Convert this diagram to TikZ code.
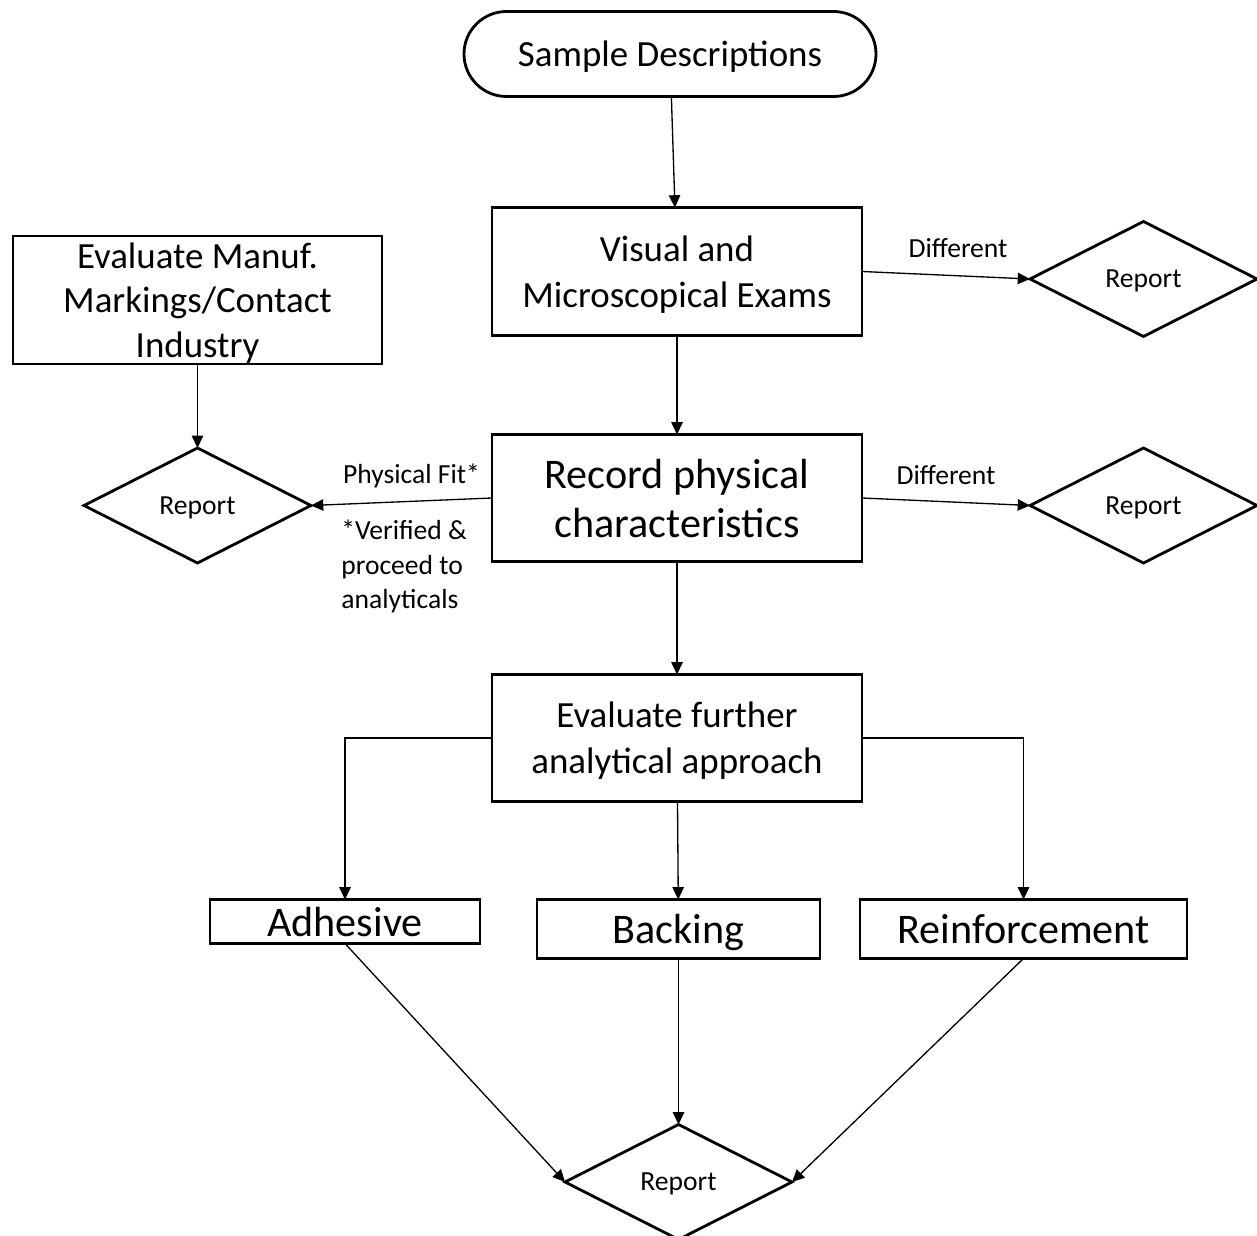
\documentclass[tikz,border=0pt]{standalone}
\usepackage{fontspec}
\setmainfont{Carlito}
\usetikzlibrary{shapes.geometric, arrows.meta, positioning}

\begin{document}
\begin{tikzpicture}[
  box/.style={draw, line width=1.6pt, align=center, inner sep=0pt, outer sep=0pt,
              minimum width=7.40cm, minimum height=2.56cm, text depth=0pt,
              font=\fontsize{21}{26}\selectfont},
  part/.style={box, minimum height=1.18cm, font=\fontsize{24}{28}\selectfont},
  terminal/.style={box, rounded corners=0.85cm, minimum width=8.24cm,
                   minimum height=1.70cm},
  report/.style={draw, diamond, line width=1.6pt, inner sep=0pt, outer sep=0pt,
                 minimum width=4.54cm, minimum height=2.30cm, text depth=0pt,
                 font=\fontsize{15.7}{19}\selectfont},
  arr/.style={-{Triangle[length=7pt, width=6.5pt]}, line width=0.75pt},
  lab/.style={font=\fontsize{15.7}{19.6}\selectfont, midway, above=6pt}
]
\useasboundingbox (0,0) rectangle (25.14,-24.72);

\node[terminal] (start) at (13.40,-1.08) {Sample Descriptions};
\node[box, below=2.22cm of start, xshift=0.14cm] (visual) {Visual and\\Microscopical Exams};
\node[report, right=3.36cm of visual, yshift=-0.15cm] (rep1) {Report};
\node[box, below=1.98cm of visual, font=\fontsize{24}{27.8}\selectfont,
      minimum height=2.54cm] (record) {Record physical\\characteristics};
\node[report, right=3.36cm of record, yshift=-0.15cm] (rep2) {Report};
\node[report, left=3.62cm of record, yshift=-0.15cm] (repL) {Report};
\node[box, above=1.68cm of repL, minimum width=7.38cm,
      font=\fontsize{21}{25.2}\selectfont] (manuf) {Evaluate Manuf.\\Markings/Contact\\Industry};
\node[box, below=2.26cm of record, minimum height=2.54cm] (further) {Evaluate further\\analytical approach};

\node[part, below=1.96cm of further, xshift=0.03cm, minimum width=5.66cm] (backing) {Backing};
\node[part, below=1.96cm of further, xshift=-6.64cm, minimum width=5.40cm,
      minimum height=0.88cm] (adhesive) {Adhesive};
\node[part, below=1.96cm of further, xshift=6.93cm, minimum width=6.54cm] (reinf) {Reinforcement};
\node[report, below=3.32cm of backing] (repB) {Report};

% physical fit note
\node[font=\fontsize{15.7}{19.6}\selectfont, align=left, anchor=north west,
      inner sep=0pt] (note) at (6.82,-10.40) {*Verified \&\\proceed to\\analyticals};

\draw[arr] (start) -- (visual);
\draw[arr] (visual.east) -- node[lab, xshift=0.24cm]{Different} (rep1.west);
\draw[arr] (visual) -- (record);
\draw[arr] (record.east) -- node[lab]{Different} (rep2.west);
\draw[arr] (record.west) -- node[lab, above=4pt, xshift=0.2cm]{Physical Fit*} (repL.east);
\draw[arr] (manuf) -- (repL);
\draw[arr] (record) -- (further);
\draw[arr] (further.west) -| (adhesive.north);
\draw[arr] (further) -- (backing);
\draw[arr] (further.east) -| (reinf.north);
\draw[arr] (adhesive.south) -- (repB.west);
\draw[arr] (backing) -- (repB);
\draw[arr] (reinf.south) -- (repB.east);
\end{tikzpicture}
\end{document}
